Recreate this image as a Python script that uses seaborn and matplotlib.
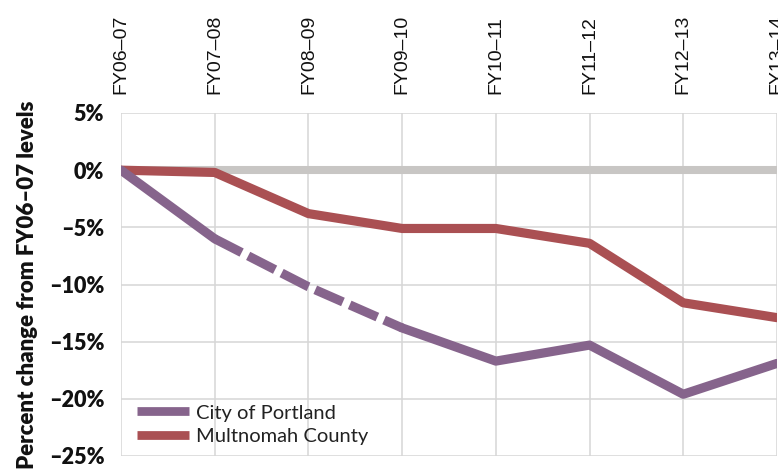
"""Percent change in staffing since FY06-07: City of Portland vs Multnomah County."""

import matplotlib
matplotlib.use("Agg")
import matplotlib.pyplot as plt
from matplotlib.lines import Line2D
import pandas as pd
import seaborn as sns

fiscal_years = ["FY06–07", "FY07–08", "FY08–09", "FY09–10",
                "FY10–11", "FY11–12", "FY12–13", "FY13–14"]
portland = [0.0, -6.0, -10.2, -13.8, -16.7, -15.3, -19.6, -16.9]
multnomah = [0.0, -0.2, -3.8, -5.1, -5.1, -6.4, -11.6, -12.9]
# Portland segment between these two years is drawn dashed
dashed_from, dashed_to = 1, 3

y_ticks = [5, 0, -5, -10, -15, -20, -25]

PURPLE = "#86648c"
RED = "#aa5053"
ZERO = "#c8c6c4"
GRID = "#d6d6d6"

sns.set_style("white")
plt.rcParams["font.family"] = ["Lato", "DejaVu Sans"]

df = pd.DataFrame({"x": range(len(fiscal_years)),
                   "portland": portland, "multnomah": multnomah})

fig, ax = plt.subplots(figsize=(7.78, 4.75), dpi=100)
fig.subplots_adjust(left=121 / 778, right=777 / 778, top=1 - 113 / 475, bottom=1 - 456 / 475)

ax.axhline(0, color=ZERO, linewidth=5.8, zorder=2)

lw = 6.6
line_kw = dict(linewidth=lw, solid_joinstyle="round", solid_capstyle="round", zorder=3)

sns.lineplot(data=df, x="x", y="multnomah", color=RED, ax=ax, **line_kw)

solid_a = df[df.x <= dashed_from]
dashed = df[(df.x >= dashed_from) & (df.x <= dashed_to)]
solid_b = df[df.x >= dashed_to]
sns.lineplot(data=solid_a, x="x", y="portland", color=PURPLE, ax=ax, **line_kw)
sns.lineplot(data=solid_b, x="x", y="portland", color=PURPLE, ax=ax, **line_kw)
sns.lineplot(data=dashed, x="x", y="portland", color=PURPLE, ax=ax,
             linewidth=lw, dashes=False, zorder=3)
ax.lines[-1].set_dashes((3.3, 0.8))
ax.lines[-1].set_dash_capstyle("butt")

ax.set_xlim(0, len(fiscal_years) - 1)
ax.set_ylim(-25, 5)
ax.set_yticks(y_ticks)
ax.set_yticklabels([f"{v}%".replace("-", "–") for v in y_ticks],
                   fontsize=15.5, fontweight="heavy", color="#111111")
ax.set_xticks(range(len(fiscal_years)))
ax.set_xticklabels(fiscal_years, rotation=90, fontsize=14,
                   family="Liberation Sans", color="#111111")
ax.xaxis.tick_top()
ax.tick_params(axis="x", length=0, pad=14)
ax.tick_params(axis="y", length=0, pad=12)

ax.grid(True, color=GRID, linewidth=1.1)
for s in ax.spines.values():
    s.set_visible(False)

ax.set_xlabel("")
ax.set_ylabel("Percent change from FY06–07 levels", fontsize=16, fontweight="heavy",
              color="#111111")
ax.yaxis.set_label_coords(-0.1265, 0.5)

handles = [Line2D([], [], color=PURPLE, linewidth=6.3, solid_capstyle="butt"),
           Line2D([], [], color=RED, linewidth=6.3, solid_capstyle="butt")]
ax.legend(handles, ["City of Portland", "Multnomah County"], loc="lower left",
          bbox_to_anchor=(0.003, -0.008), frameon=False, fontsize=14.5,
          handlelength=2.6, handletextpad=0.35, labelspacing=0.3, borderaxespad=0.3,
          labelcolor="#222222")

fig.savefig("out.png", dpi=100)
